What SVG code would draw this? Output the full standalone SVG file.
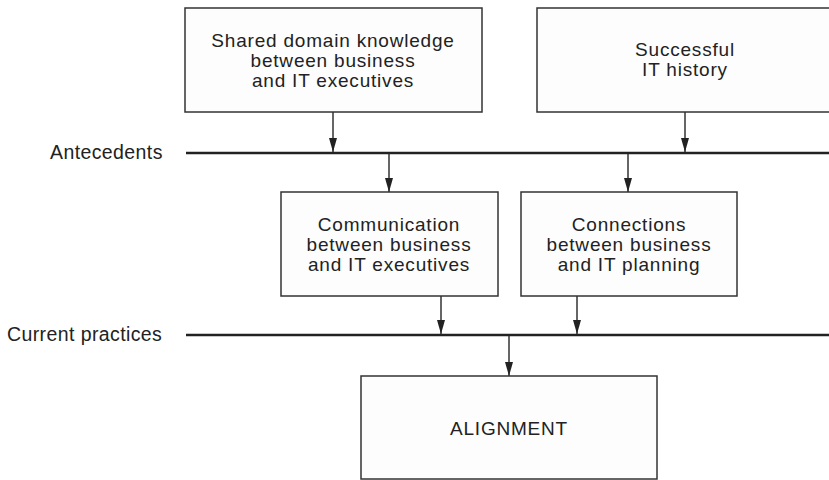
<svg xmlns="http://www.w3.org/2000/svg" width="829" height="480" viewBox="0 0 829 480">
<defs>
<style>
.box{fill:#fdfdfd;stroke:#333;stroke-width:1.5}
.t{font-family:"Liberation Sans",Arial,sans-serif;font-size:19px;fill:#222;text-anchor:middle;letter-spacing:0.8px}
.lbl{font-family:"Liberation Sans",Arial,sans-serif;font-size:19.5px;fill:#222;letter-spacing:0.4px}
.bar{stroke:#222;stroke-width:2.5;fill:none}
.c{stroke:#333;stroke-width:1.5;fill:none;marker-end:url(#ah)}
</style>
<marker id="ah" viewBox="0 0 14 10" refX="14" refY="5" markerWidth="14" markerHeight="10" markerUnits="userSpaceOnUse" orient="auto">
<path d="M0,1 L14,5 L0,9 Z" fill="#222"/>
</marker>
</defs>
<rect width="829" height="480" fill="#fff"/>
<g id="bars">
<line class="bar" x1="186" y1="153" x2="829" y2="153"/>
<text class="lbl" x="50" y="159">Antecedents</text>
<line class="bar" x1="186" y1="335" x2="829" y2="335"/>
<text class="lbl" x="7" y="341">Current practices</text>
</g>
<g id="n1">
<rect class="box" x="185" y="8" width="297" height="104"/>
<text class="t" x="333" y="47">Shared domain knowledge</text>
<text class="t" x="333" y="67">between business</text>
<text class="t" x="333" y="87">and IT executives</text>
</g>
<g id="n2">
<rect class="box" x="537" y="8" width="300" height="104"/>
<text class="t" x="685" y="56">Successful</text>
<text class="t" x="685" y="76">IT history</text>
</g>
<g id="n3">
<rect class="box" x="281" y="192" width="217" height="104"/>
<text class="t" x="389" y="231">Communication</text>
<text class="t" x="389" y="251">between business</text>
<text class="t" x="389" y="271">and IT executives</text>
</g>
<g id="n4">
<rect class="box" x="521" y="192" width="216" height="104"/>
<text class="t" x="629" y="231">Connections</text>
<text class="t" x="629" y="251">between business</text>
<text class="t" x="629" y="271">and IT planning</text>
</g>
<g id="n5">
<rect class="box" x="361" y="376" width="296" height="103"/>
<text class="t" x="509" y="435">ALIGNMENT</text>
</g>
<g id="connectors">
<line class="c" x1="333" y1="112" x2="333" y2="152"/>
<line class="c" x1="685" y1="112" x2="685" y2="152"/>
<line class="c" x1="389" y1="154" x2="389" y2="192"/>
<line class="c" x1="628" y1="154" x2="628" y2="192"/>
<line class="c" x1="441" y1="296" x2="441" y2="334"/>
<line class="c" x1="577" y1="296" x2="577" y2="334"/>
<line class="c" x1="509" y1="336" x2="509" y2="376"/>
</g>
</svg>
